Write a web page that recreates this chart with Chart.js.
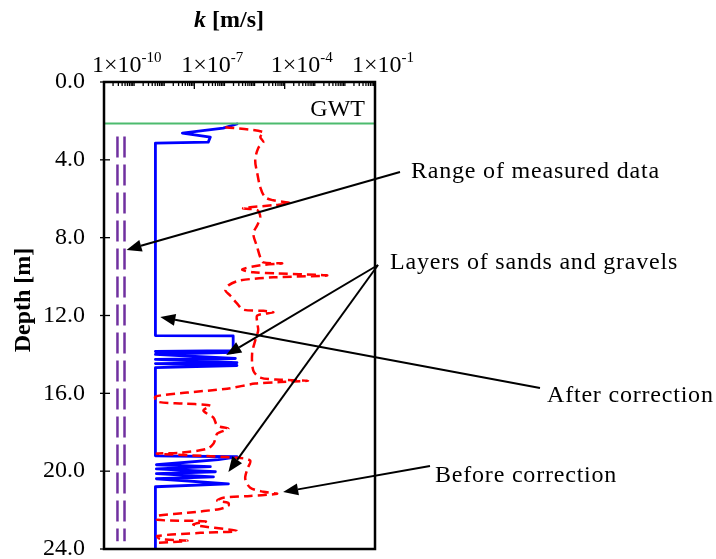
<!DOCTYPE html>
<html>
<head>
<meta charset="utf-8">
<script src="https://cdn.jsdelivr.net/npm/chart.js@4.4.1/dist/chart.umd.min.js"></script>
<style>
  html, body { margin: 0; padding: 0; background: #fff; }
  #wrap { width: 716px; height: 559px; }
</style>
</head>
<body>
<div id="wrap"><canvas id="myChart" width="716" height="559"></canvas></div>
<script>
// depth [m] and hydraulic conductivity k [m/s]
const afterDepth = [2.16, 2.37, 2.63, 2.83, 3.09, 3.14, 13.03, 13.05, 13.80, 13.85, 13.90, 14.00, 14.21, 14.26, 14.42, 14.47, 14.57, 14.68,
  19.21, 19.26, 19.41, 19.67, 19.77, 19.88, 20.03, 20.13, 20.29, 20.39, 20.65, 20.80, 24.0];
const afterK = [2.6e-6, 9.1e-7, 4.0e-8, 3.4e-7, 2.9e-7, 5.1e-9, 5.1e-9, 1.95e-6, 1.95e-6, 5.1e-9, 1.95e-6, 5.1e-9, 2.3e-6, 5.1e-9, 2.6e-6, 5.1e-9, 2.6e-6, 5.1e-9,
  5.1e-9, 2.6e-6, 6.3e-7, 5.5e-9, 3.4e-7, 5.5e-9, 5.0e-7, 5.5e-9, 4.3e-7, 5.5e-9, 1.35e-6, 5.1e-9, 5.1e-9];

const beforeDepth = [2.32, 2.57, 2.83, 3.09, 3.40, 4.02, 4.69, 5.41, 5.92, 6.08, 6.23, 6.33, 6.49, 6.59, 6.95, 7.36, 7.78, 8.50,
  9.01, 9.27, 9.32, 9.42, 9.63, 9.78, 9.84, 9.94, 10.04, 10.20, 10.45, 10.71, 10.97, 11.38, 11.70, 11.76, 11.84, 12.00,
  12.36, 12.77, 13.29, 13.95, 14.83, 15.19, 15.30, 15.35, 15.42, 15.50, 15.76, 15.96, 16.17, 16.43, 16.53, 16.63, 16.89,
  17.25, 17.66, 17.82, 18.07, 18.33, 18.59, 18.85, 19.05, 19.10, 19.31, 19.46, 19.88, 20.39, 20.85, 21.06, 21.16, 21.27,
  21.37, 21.52, 21.63, 21.78, 21.94, 22.14, 22.30, 22.50, 22.58, 22.75, 23.07, 23.17, 23.33, 23.48, 23.58, 23.69];
const beforeK = [1.07e-6, 1.95e-5, 1.55e-5, 1.95e-5, 1.32e-5, 1.05e-5, 1.23e-5, 1.55e-5, 2.24e-5, 4.2e-5, 1.5e-4, 4.2e-5, 4.2e-6, 1.23e-5, 1.55e-5, 1.23e-5, 9.1e-6, 1.23e-5,
  1.55e-5, 1.95e-5, 8.3e-5, 1.55e-5, 3.9e-6, 9.1e-6, 5.6e-5, 2.6e-3, 4.2e-5, 3.3e-6, 1.35e-6, 1.07e-6, 1.55e-6, 2.6e-6, 4.2e-6, 1.95e-5, 4.2e-5, 1.23e-5,
  1.23e-5, 1.32e-5, 1.05e-5, 8.3e-6, 9.1e-6, 1.55e-5, 7.1e-5, 6.0e-4, 7.1e-5, 1.05e-5, 1.23e-6, 5.9e-8, 5.1e-9, 5.9e-9, 4.4e-8, 3.4e-7, 2.0e-7,
  4.3e-7, 5.8e-7, 1.35e-6, 5.8e-7, 5.0e-7, 4.3e-7, 2.7e-7, 3.5e-8, 5.9e-9, 2.6e-6, 7.2e-6, 5.8e-6, 4.9e-6, 7.2e-6, 1.95e-5, 5.6e-5, 7.2e-6,
  9.1e-7, 5.8e-7, 1.35e-6, 1.35e-6, 7.2e-7, 5.9e-8, 5.9e-9, 5.9e-9, 2.4e-7, 9.3e-8, 2.6e-6, 1.6e-7, 5.9e-9, 7.4e-9, 5.9e-8, 5.9e-9];

// range of measured data (two vertical dashed lines)
const rangeDepth = [2.8, 23.6];
const rangeMinK = [2.8e-10, 2.8e-10];
const rangeMaxK = [4.8e-10, 4.8e-10];

// ground water table
const gwtDepth = [2.13, 2.13];
const gwtK = [1e-10, 1e-1];

const xLabelExp = [-10, -7, -4, -1];
const yTickValues = [0, 4, 8, 12, 16, 20, 24];

// annotations: text, text position, arrow tips in data units
const notes = [
  { text: 'Range of measured data', tx: 411, ty: 178, from: [400, 172], tips: [[5.6e-10, 8.63]] },
  { text: 'Layers of sands and gravels', tx: 390, ty: 269, from: [378, 265], tips: [[1.15e-6, 14.03], [1.35e-6, 20.04]] },
  { text: 'After correction', tx: 547, ty: 402, from: [540, 388], tips: [[7.4e-9, 12.08]] },
  { text: 'Before correction', tx: 435, ty: 482, from: [430, 466], tips: [[8.9e-5, 21.07]] },
];

const xLabelShift = [-12, -13, -14, -23];
const serif = '"Liberation Serif", "Times New Roman", serif';

function toPoints(depths, ks) {
  return depths.map((d, i) => ({ x: ks[i], y: d }));
}

function drawArrow(c, x1, y1, x2, y2) {
  const ang = Math.atan2(y2 - y1, x2 - x1);
  const hl = 15;
  const hw = 6;
  const bx = x2 - hl * Math.cos(ang);
  const by = y2 - hl * Math.sin(ang);
  c.beginPath();
  c.moveTo(x1, y1);
  c.lineTo(bx, by);
  c.stroke();
  c.beginPath();
  c.moveTo(x2, y2);
  c.lineTo(bx + hw * Math.sin(ang), by - hw * Math.cos(ang));
  c.lineTo(bx - hw * Math.sin(ang), by + hw * Math.cos(ang));
  c.closePath();
  c.fill();
}

const decorPlugin = {
  id: 'decor',
  afterDraw(chart) {
    const c = chart.ctx;
    const a = chart.chartArea;
    const xs = chart.scales.x;
    const ys = chart.scales.y;
    c.save();
    c.strokeStyle = '#000';
    c.fillStyle = '#000';

    // frame
    c.lineWidth = 2.5;
    c.strokeRect(a.left, a.top, a.right - a.left, a.bottom - a.top);

    // log ticks, inside
    c.lineWidth = 1.3;
    for (let n = -10; n <= -2; n++) {
      for (let m = 1; m <= 9; m++) {
        const px = xs.getPixelForValue(m * Math.pow(10, n));
        const len = (m === 1 && xLabelExp.includes(n)) ? 7 : 4;
        c.beginPath();
        c.moveTo(px, a.top);
        c.lineTo(px, a.top + len);
        c.stroke();
      }
    }
    yTickValues.forEach((v) => {
      const py = ys.getPixelForValue(v);
      c.beginPath();
      c.moveTo(a.left - 4, py);
      c.lineTo(a.left + 6, py);
      c.stroke();
    });

    // x tick labels with exponent
    c.textAlign = 'left';
    c.textBaseline = 'alphabetic';
    xLabelExp.forEach((e, i) => {
      const px = xs.getPixelForValue(Math.pow(10, e)) + xLabelShift[i];
      c.font = '24px ' + serif;
      c.fillText('1×10', px, 72);
      const w = c.measureText('1×10').width;
      c.font = '15px ' + serif;
      c.fillText(String(e), px + w, 62);
    });

    // axis titles
    c.font = 'italic bold 24px ' + serif;
    const kw = c.measureText('k').width;
    c.font = 'bold 24px ' + serif;
    const rw = c.measureText(' [m/s]').width;
    const tx = a.left + 125 - (kw + rw) / 2;
    c.font = 'italic bold 24px ' + serif;
    c.fillText('k', tx, 27);
    c.font = 'bold 24px ' + serif;
    c.fillText(' [m/s]', tx + kw, 27);

    c.save();
    c.translate(30, 300);
    c.rotate(-Math.PI / 2);
    c.textAlign = 'center';
    c.fillText('Depth [m]', 0, 0);
    c.restore();

    // GWT label
    c.font = '24px ' + serif;
    c.textAlign = 'right';
    c.fillText('GWT', a.right - 10, ys.getPixelForValue(gwtDepth[0]) - 7);

    // annotations
    c.textAlign = 'left';
    c.lineWidth = 2;
    notes.forEach((nt) => {
      c.font = '24px ' + serif;
      if ('letterSpacing' in c) c.letterSpacing = '0.8px';
      c.fillText(nt.text, nt.tx, nt.ty);
      if ('letterSpacing' in c) c.letterSpacing = '0px';
      nt.tips.forEach((tp) => {
        drawArrow(c, nt.from[0], nt.from[1], xs.getPixelForValue(tp[0]), ys.getPixelForValue(tp[1]));
      });
    });
    c.restore();
  },
};

const ctx = document.getElementById('myChart').getContext('2d');

const myChart = new Chart(ctx, {
  type: 'scatter',
  data: {
    datasets: [
      {
        label: 'GWT',
        data: toPoints(gwtDepth, gwtK),
        showLine: true,
        borderColor: '#4CBB6E',
        borderWidth: 2,
        pointRadius: 0,
      },
      {
        label: 'Range min',
        data: toPoints(rangeDepth, rangeMinK),
        showLine: true,
        borderColor: '#7030A0',
        borderWidth: 2.5,
        borderDash: [21, 7],
        pointRadius: 0,
      },
      {
        label: 'Range max',
        data: toPoints(rangeDepth, rangeMaxK),
        showLine: true,
        borderColor: '#7030A0',
        borderWidth: 2.5,
        borderDash: [21, 7],
        pointRadius: 0,
      },
      {
        label: 'Before correction',
        data: toPoints(beforeDepth, beforeK),
        showLine: true,
        borderColor: '#FF0000',
        borderWidth: 2.5,
        borderDash: [9, 5],
        tension: 0.3,
        pointRadius: 0,
      },
      {
        label: 'After correction',
        data: toPoints(afterDepth, afterK),
        showLine: true,
        borderColor: '#0000FF',
        borderWidth: 2.8,
        borderJoinStyle: 'round',
        borderCapStyle: 'round',
        tension: 0,
        pointRadius: 0,
      },
    ],
  },
  options: {
    responsive: false,
    animation: false,
    layout: { padding: { left: 0, top: 0, right: 341, bottom: 10 } },
    plugins: {
      legend: { display: false },
      tooltip: { enabled: false },
    },
    scales: {
      x: {
        type: 'logarithmic',
        position: 'top',
        min: 1e-10,
        max: 1e-1,
        grid: { display: false },
        border: { display: false },
        ticks: { display: false },
        afterFit(scale) {
          scale.height = 82;
          scale.paddingLeft = 0;
          scale.paddingRight = 0;
        },
      },
      y: {
        type: 'linear',
        reverse: true,
        min: 0,
        max: 24,
        grid: { display: false },
        border: { display: false },
        ticks: {
          stepSize: 4,
          padding: 11,
          color: '#000',
          font: { family: serif, size: 24 },
          callback: (v) => v.toFixed(1),
        },
        afterFit(scale) {
          scale.width = 104;
          scale.paddingTop = 0;
          scale.paddingBottom = 0;
        },
      },
    },
  },
  plugins: [decorPlugin],
});
</script>
</body>
</html>
